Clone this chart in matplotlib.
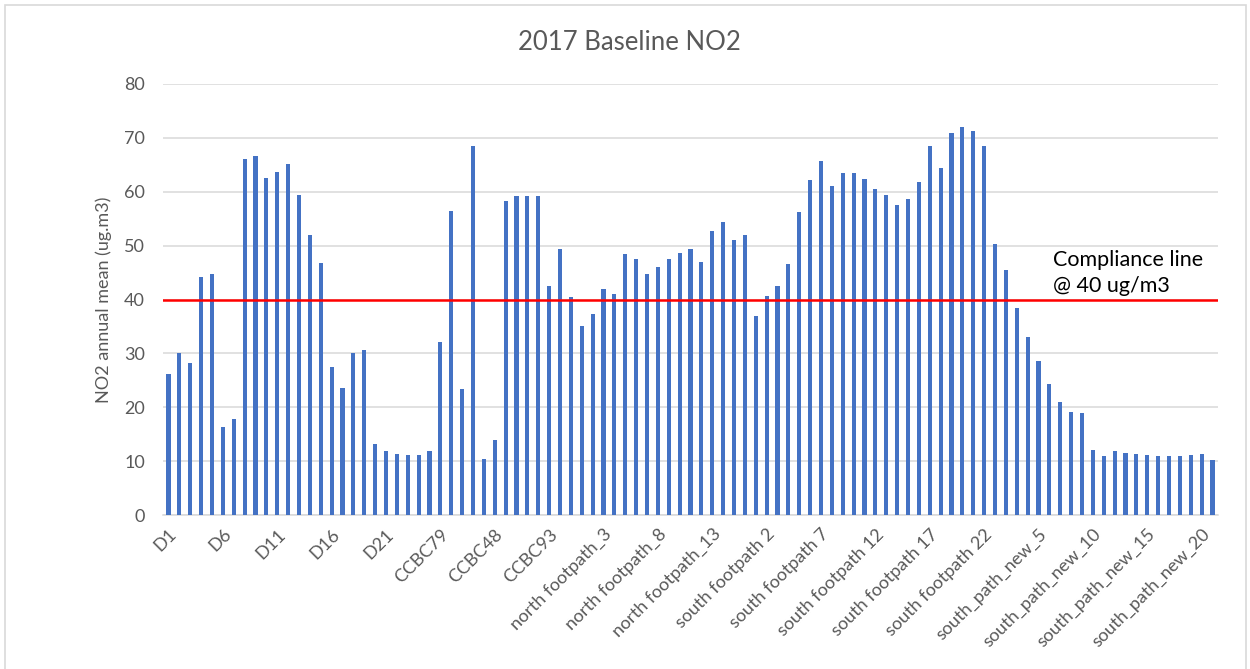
import matplotlib
matplotlib.use("Agg")
import matplotlib.pyplot as plt
from matplotlib.patches import Rectangle
import numpy as np

plt.rcParams['font.family'] = ['Lato', 'DejaVu Sans']

# ---- data ----
d_names = [f"D{i}" for i in range(1, 26)]
ccbc_names = ["CCBC79", "CCBC78", "CCBC77", "CCBC76", "CCBC49", "CCBC48", "CCBC47",
              "CCBC90", "CCBC91", "CCBC92", "CCBC93", "CCBC94", "CCBC95"]
north_names = [f"north footpath_{i}" for i in range(1, 17)]
south_names = [f"south footpath {i}" for i in range(1, 23)]
new_names = [f"south_path_new_{i}" for i in range(1, 22)]
sites = d_names + ccbc_names + north_names + south_names + new_names

no2_values = [
    26.2, 30.1, 28.3, 44.2, 44.7, 16.3, 17.8, 66.1, 66.6, 62.5,
    63.6, 65.2, 59.4, 52.0, 46.7, 27.4, 23.5, 30.1, 30.6, 13.1,
    11.8, 11.3, 11.1, 11.1, 11.8,
    32.2, 56.4, 23.3, 68.4, 10.4, 14.0, 58.3, 59.3, 59.3, 59.3,
    42.5, 49.4, 40.5,
    35.1, 37.3, 42.0, 41.0, 48.5, 47.6, 44.7, 46.0, 47.6, 48.6,
    49.4, 46.9, 52.8, 54.3, 51.1, 51.9,
    37.0, 40.6, 42.5, 46.5, 56.2, 62.1, 65.7, 61.1, 63.4, 63.4,
    62.4, 60.6, 59.4, 57.5, 58.7, 61.9, 68.4, 64.4, 70.9, 72.0,
    71.2, 68.4,
    50.3, 45.4, 38.5, 33.0, 28.5, 24.4, 20.9, 19.1, 18.9, 12.1,
    11.0, 11.9, 11.5, 11.3, 11.1, 11.0, 11.0, 11.0, 11.1, 11.3,
    10.2,
]
compliance_limit = 40
y_ticks = [0, 10, 20, 30, 40, 50, 60, 70, 80]

W, H = 1250, 669
fig = plt.figure(figsize=(W / 100, H / 100), dpi=100)
fig.patch.set_facecolor("white")

# outer chart border
fig.add_artist(Rectangle((5 / W, -0.01), (1246 - 5) / W, 1 - 5 / H + 0.01,
                         transform=fig.transFigure, fill=False,
                         edgecolor="#D9D9D9", linewidth=1.2))

ax = fig.add_axes([163 / W, (H - 515) / H, (1218 - 163) / W, (515 - 84) / H])

x = np.arange(len(sites))
ax.bar(x, no2_values, width=0.38, color="#4472C4", zorder=3)

ax.set_xlim(-0.5, len(sites) - 0.5)
ax.set_ylim(0, 80)
ax.set_yticks(y_ticks)
ax.set_yticklabels([str(v) for v in y_ticks])
ax.grid(axis="y", color="#D9D9D9", linewidth=1.1, zorder=0)
ax.set_axisbelow(True)
for s in ["top", "right", "left"]:
    ax.spines[s].set_visible(False)
ax.spines["bottom"].set_color("#D9D9D9")
ax.spines["bottom"].set_linewidth(1.1)

ax.set_xticks(x[::5])
ax.set_xticklabels(sites[::5], rotation=45, ha="right", rotation_mode="anchor")
ax.tick_params(axis="both", length=0, colors="#595959", labelsize=13)
ax.tick_params(axis="y", pad=13)
ax.tick_params(axis="x", pad=8)

ax.set_ylabel("NO2 annual mean (ug.m3)", color="#595959", fontsize=13, labelpad=9)

ax.axhline(compliance_limit, color="#FF0000", linewidth=1.8, zorder=4)

fig.text(1053 / W, 1 - 273 / H, "Compliance line\n@ 40 ug/m3", fontsize=15.5,
         color="black", ha="left", va="center", linespacing=1.35)

fig.text(629 / W, 1 - 43 / H, "2017 Baseline NO2", fontsize=18.5, color="#595959",
         ha="center", va="center")

fig.savefig("out.png", dpi=100)
